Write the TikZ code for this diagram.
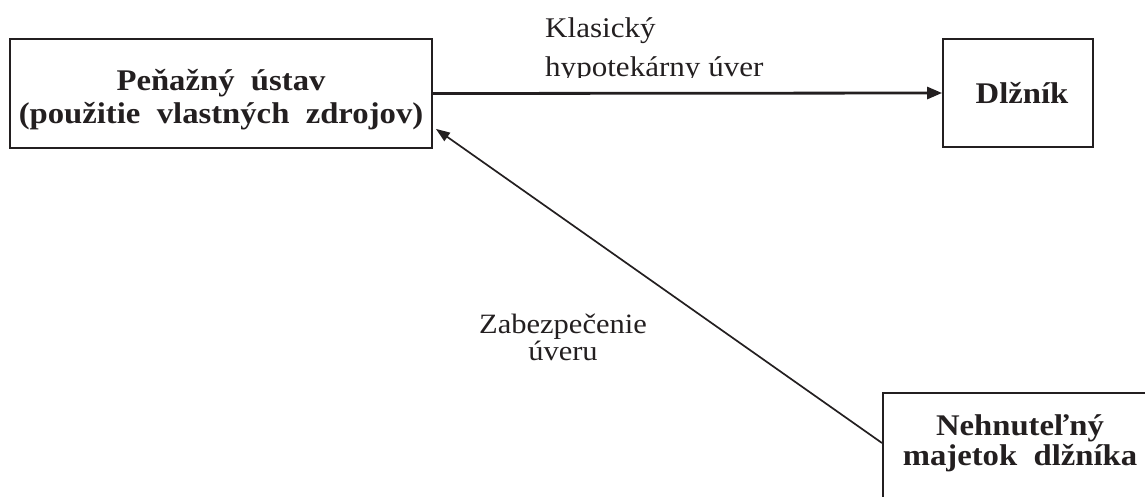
\documentclass[tikz,border=0pt]{standalone}
\usepackage{fontspec}
\setmainfont{Liberation Serif}[FakeStretch=1.09]
\usetikzlibrary{arrows.meta}
\definecolor{ink}{RGB}{35,31,32}
\begin{document}
\begin{tikzpicture}[x=1pt,y=-1pt, ink,
  box/.style={draw=ink, line width=1.8pt, inner sep=0pt},
  lbl/.style={inner sep=0pt, text=ink, font=\fontsize{28.5}{39}\selectfont},
  blbl/.style={inner sep=0pt, text=ink, align=center, font=\bfseries\fontsize{30}{33}\selectfont},
  thick arrow/.style={draw=ink, line width=2.8pt, -{Triangle[length=15pt,width=12pt]}},
  thin arrow/.style={draw=ink, line width=1.7pt, -{Triangle[length=14pt,width=10pt]}}]
\useasboundingbox (0,0) rectangle (1145,496);
\clip (0,0) rectangle (1145,496);
% boxes
\node[box, minimum width=422pt, minimum height=109pt] (pen) at (221,93.5) {};
\node[box, minimum width=150pt, minimum height=108pt] (dlz) at (1018,93) {};
\node[box, minimum width=300pt, minimum height=170pt, anchor=north west] (maj) at (882,392) {};
% box texts (base anchor = baseline of the last line)
\node[blbl, anchor=base] (pent) at (221,123) {Peňažný~~ústav\\(použitie~~vlastných~~zdrojov)};
\node[blbl, anchor=base] (dlzt) at (1022,103) {Dlžník};
\node[blbl, anchor=base, font=\bfseries\fontsize{30}{30}\selectfont] (majt) at (1020,465) {Nehnuteľný\\majetok~~dlžníka};
% connector labels
\begin{scope}
\clip (0,0) rectangle (1145,77.5);
\node[lbl, align=left, anchor=base west] (kl) at (545,76) {Klasický\\hypotekárny úver};
\end{scope}
\node[lbl, align=center, anchor=base, font=\fontsize{28}{27}\selectfont] (zab) at (563,360) {Zabezpečenie\\úveru};
% connectors
\draw[thick arrow] (pen.east) -- (dlz.west);
\draw[thin arrow] ([yshift=-51pt]maj.north west) -- ([xshift=3pt,yshift=20pt]pen.south east);
\end{tikzpicture}
\end{document}
